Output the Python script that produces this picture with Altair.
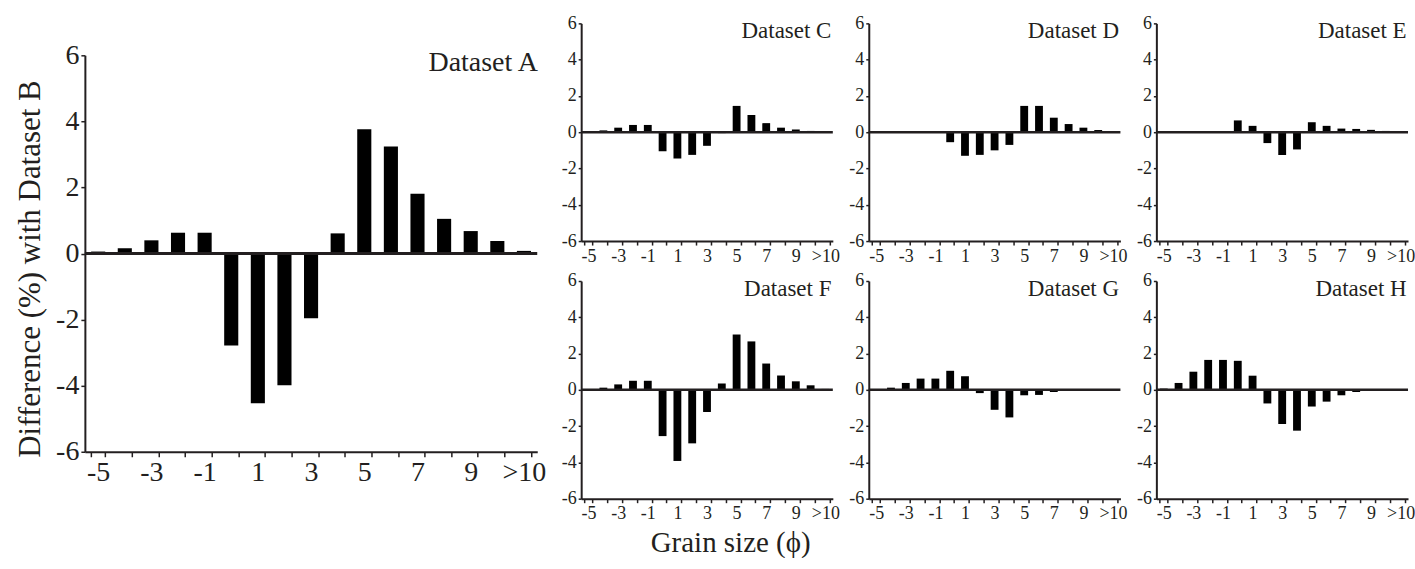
import altair as alt
import pandas as pd

categories = ["-5", "-4", "-3", "-2", "-1", "0", "1", "2", "3", "4",
              "5", "6", "7", "8", "9", "10", ">10"]
tick_labels = ["-5", "-3", "-1", "1", "3", "5", "7", "9", ">10"]
y_ticks = [-6, -4, -2, 0, 2, 4, 6]

values_A = [0.06, 0.16, 0.40, 0.63, 0.63, -2.78, -4.53, -3.99, -1.96, 0.61,
            3.76, 3.24, 1.81, 1.05, 0.68, 0.38, 0.08]
values_C = [0.02, 0.10, 0.25, 0.40, 0.40, -1.05, -1.45, -1.25, -0.75, -0.05,
            1.45, 0.95, 0.50, 0.25, 0.15, 0.07, 0.02]
values_D = [0.00, 0.01, 0.02, 0.04, 0.05, -0.55, -1.30, -1.25, -1.00, -0.70,
            1.45, 1.45, 0.80, 0.45, 0.25, 0.12, 0.02]
values_E = [0.00, 0.01, 0.02, 0.04, 0.05, 0.65, 0.35, -0.60, -1.25, -0.95,
            0.55, 0.35, 0.20, 0.18, 0.13, 0.07, 0.02]
values_F = [0.02, 0.12, 0.30, 0.50, 0.50, -2.55, -3.92, -2.95, -1.22, 0.35,
            3.05, 2.67, 1.45, 0.79, 0.47, 0.25, 0.05]
values_G = [0.02, 0.12, 0.38, 0.62, 0.62, 1.05, 0.75, -0.18, -1.10, -1.52,
            -0.30, -0.28, -0.12, -0.03, -0.02, 0.00, 0.00]
values_H = [0.07, 0.38, 1.00, 1.65, 1.65, 1.60, 0.78, -0.75, -1.88, -2.25,
            -0.92, -0.65, -0.30, -0.12, -0.03, -0.02, 0.00]

names = ["Dataset A", "Dataset C", "Dataset D", "Dataset E",
         "Dataset F", "Dataset G", "Dataset H"]
y_title = "Difference (%) with Dataset B"
x_title = "Grain size (\u03d5)"

FONT = "Liberation Serif"
INK = "#231f20"

label_list = "[" + ",".join("'" + t + "'" for t in tick_labels) + "]"
x_label_expr = f"indexof({label_list}, datum.label) >= 0 ? datum.label : ''"
y_label_expr = "datum.value < 0 ? '-' + abs(datum.value) : '' + datum.value"


def panel(name, vals, w, h, big):
    df = pd.DataFrame({"phi": categories, "diff": vals})
    fs = 28 if big else 18
    tick = 4 if big else 3
    xscale = alt.Scale(paddingInner=0.47, paddingOuter=0.235)
    yscale = alt.Scale(domain=[-6, 6], nice=False)
    xaxis = alt.Axis(labelExpr=x_label_expr, labelAngle=0, tickBand="extent",
                     tickSize=tick + 1, tickWidth=1.5, tickColor=INK,
                     domainColor=INK, domainWidth=2, labelFont=FONT,
                     labelFontSize=fs, labelColor=INK, labelPadding=2,
                     labelOverlap=False, grid=False)
    yaxis_kw = dict(values=y_ticks, labelExpr=y_label_expr, grid=False,
                    tickSize=tick, tickWidth=1.5, tickColor=INK,
                    domainColor=INK, domainWidth=2, labelFont=FONT,
                    labelFontSize=fs, labelColor=INK, labelPadding=2,
                    labelOverlap=False, labelFlush=False)
    if big:
        yaxis_kw.update(title=y_title, titleFont=FONT, titleFontSize=31,
                        titleFontWeight="normal", titleColor=INK,
                        titlePadding=9, titleY=h / 2 + 15)
    else:
        yaxis_kw.update(title=None)
    yaxis = alt.Axis(**yaxis_kw)

    def xe():
        return alt.X("phi:N", sort=categories, title=None, scale=xscale, axis=xaxis)

    def ye():
        return alt.Y("diff:Q", scale=yscale, axis=yaxis)

    bars = alt.Chart(df).mark_bar(color="black").encode(x=xe(), y=ye())
    zero_df = pd.DataFrame({"diff": [0]})
    zero = alt.Chart(zero_df).mark_rule(
        color=INK, strokeWidth=3 if big else 2.5).encode(y=ye())
    lab_df = pd.DataFrame({"phi": [">10"], "diff": [6], "name": [name]})
    label = alt.Chart(lab_df).mark_text(
        align="right", baseline="top", font=FONT,
        fontSize=28 if big else 23, color=INK,
        dx=14 if big else 6, dy=-6 if big else -3,
    ).encode(x=xe(), y=ye(), text="name:N")
    return alt.layer(bars, zero, label).properties(width=w, height=h)


pA = panel(names[0], values_A, 453, 397, True)
small = [panel(n, v, 252, 218, False) for n, v in zip(
    names[1:], [values_C, values_D, values_E, values_F, values_G, values_H])]

spacer = alt.Chart(pd.DataFrame({"v": [0]})).mark_point(opacity=0, size=0).encode(
    x=alt.X("v:Q", axis=None), y=alt.Y("v:Q", axis=None)
).properties(width=5, height=18)

left = alt.vconcat(spacer, pA, spacing=0)
right = alt.concat(*small, columns=3,
                   spacing=alt.RowColnumber(row=7, column=9))

chart = alt.hconcat(left, right, spacing=15).properties(
    title=alt.TitleParams(x_title, orient="bottom", anchor="middle",
                          font=FONT, fontSize=29, fontWeight="normal",
                          color=INK, offset=6, dx=16),
    padding={"left": 14, "top": 14, "right": 0, "bottom": 0},
).configure_view(stroke=None).configure_axis(labelOverlap=False)

chart.save("out.html", embed_options={"renderer": "svg", "actions": False})
